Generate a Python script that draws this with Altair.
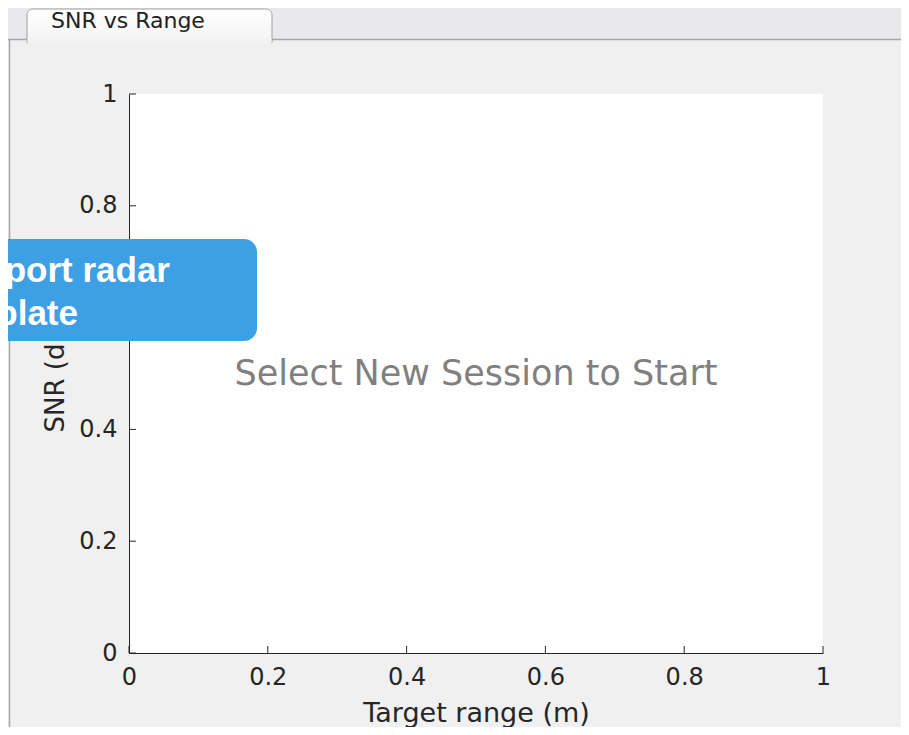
import altair as alt
import pandas as pd

# ---- data / text content ----
x_ticks = [0, 0.2, 0.4, 0.6, 0.8, 1]
y_ticks = [0, 0.2, 0.4, 0.6, 0.8, 1]
placeholder_text = ["Select New Session to Start"]
placeholder_x = [0.5]
placeholder_y = [0.5]
tab_label = ["SNR vs Range"]
callout_lines = ["Export radar", "template"]
x_title = "Target range (m)"
y_title = "SNR (dB)"

W, H = 694, 559
FONT = "DejaVu Sans"
INK = "#262626"

xscale = alt.Scale(domain=[0, 1], nice=False, zero=False)
yscale = alt.Scale(domain=[0, 1], nice=False, zero=False)

xaxis = alt.Axis(
    values=x_ticks, format="~g", title=x_title, grid=False, ticks=False,
    domainColor=INK, domainWidth=1, labelColor=INK, labelFont=FONT,
    labelFontSize=24, labelPadding=12, labelFlush=False, labelOverlap=False,
    titleFont=FONT, titleFontSize=27, titleFontWeight="normal", titleColor=INK,
    titleY=60, titleBaseline="middle",
)
yaxis = alt.Axis(
    values=y_ticks, format="~g", title=y_title, grid=False, ticks=False,
    domainColor=INK, domainWidth=1, labelColor=INK, labelFont=FONT,
    labelFontSize=24, labelPadding=12, labelFlush=False, labelOverlap=False,
    titleFont=FONT, titleFontSize=26, titleFontWeight="normal", titleColor=INK,
    titleX=-74, titleY=H / 2, titleBaseline="middle", titleAngle=270,
)

one = pd.DataFrame({"k": [0]})

# placeholder text in the middle of the axes
text_df = pd.DataFrame({"x": placeholder_x, "y": placeholder_y, "label": placeholder_text})
placeholder = alt.Chart(text_df).mark_text(
    font=FONT, fontSize=35, color="#808080", align="center", baseline="middle"
).encode(
    x=alt.X("x:Q", scale=xscale, axis=xaxis),
    y=alt.Y("y:Q", scale=yscale, axis=yaxis),
    text="label:N",
)

# inward ticks
xt = alt.Chart(pd.DataFrame({"x": x_ticks})).mark_rule(color=INK, strokeWidth=1).encode(
    x=alt.X("x:Q", scale=xscale, axis=xaxis),
    y=alt.value(H), y2=alt.value(H - 7),
)
yt = alt.Chart(pd.DataFrame({"y": y_ticks})).mark_rule(color=INK, strokeWidth=1).encode(
    y=alt.Y("y:Q", scale=yscale, axis=yaxis),
    x=alt.value(0), x2=alt.value(7),
)

# window chrome: tab bar, tab, left border
tabbar = alt.Chart(one).mark_rect(color="#e9e8eb").encode(
    x=alt.value(-125), x2=alt.value(W + 90), y=alt.value(-90), y2=alt.value(-54)
)
tabbar_line = alt.Chart(one).mark_rule(color="#a5a5a5", strokeWidth=1.5).encode(
    x=alt.value(-125), x2=alt.value(W + 90), y=alt.value(-54.5)
)
tab = alt.Chart(one).mark_rect(
    color=alt.LinearGradient(
        gradient="linear", x1=0, y1=0, x2=0, y2=1,
        stops=[alt.GradientStop(color="#ffffff", offset=0),
               alt.GradientStop(color="#f3f3f3", offset=1)],
    ),
    stroke="#a0a0a0", strokeWidth=1,
    cornerRadiusTopLeft=6, cornerRadiusTopRight=6,
).encode(x=alt.value(-102), x2=alt.value(143), y=alt.value(-85), y2=alt.value(-51))
tab_gap = alt.Chart(one).mark_rect(color="#f2f2f2").encode(
    x=alt.value(-101.5), x2=alt.value(142.5), y=alt.value(-55), y2=alt.value(-50)
)
tab_text = alt.Chart(pd.DataFrame({"t": tab_label})).mark_text(
    font=FONT, fontSize=22, color="#222222", align="left", baseline="middle"
).encode(x=alt.value(-78), y=alt.value(-73), text="t:N")
left_border = alt.Chart(one).mark_rule(color="#a8a8a8", strokeWidth=1.5).encode(
    x=alt.value(-119.5), y=alt.value(-54), y2=alt.value(H + 80)
)

# blue callout
callout = alt.Chart(one).mark_rect(color="#3d9fe4", cornerRadius=13).encode(
    x=alt.value(-200), x2=alt.value(128), y=alt.value(145), y2=alt.value(247)
)
callout_df = pd.DataFrame({"t": callout_lines, "xp": [41, -51], "yp": [188, 231]})
callout_text = alt.Chart(callout_df).mark_text(
    font="Liberation Sans", fontWeight="bold", fontSize=35, color="white",
    align="right", baseline="alphabetic"
).encode(x=alt.X("xp:Q", scale=None), y=alt.Y("yp:Q", scale=None), text="t:N")

chart = alt.layer(
    tabbar, tabbar_line, tab, tab_gap, tab_text, left_border,
    xt, yt, placeholder, callout, callout_text,
).properties(
    width=W, height=H,
    padding={"left": 121, "top": 86, "right": 78, "bottom": 74},
    autosize=alt.AutoSizeParams(type="none"),
    background="#f0f0f0",
).configure_view(fill="white", strokeWidth=0)

chart.save("out.html", embed_options={"renderer": "svg", "actions": False})
